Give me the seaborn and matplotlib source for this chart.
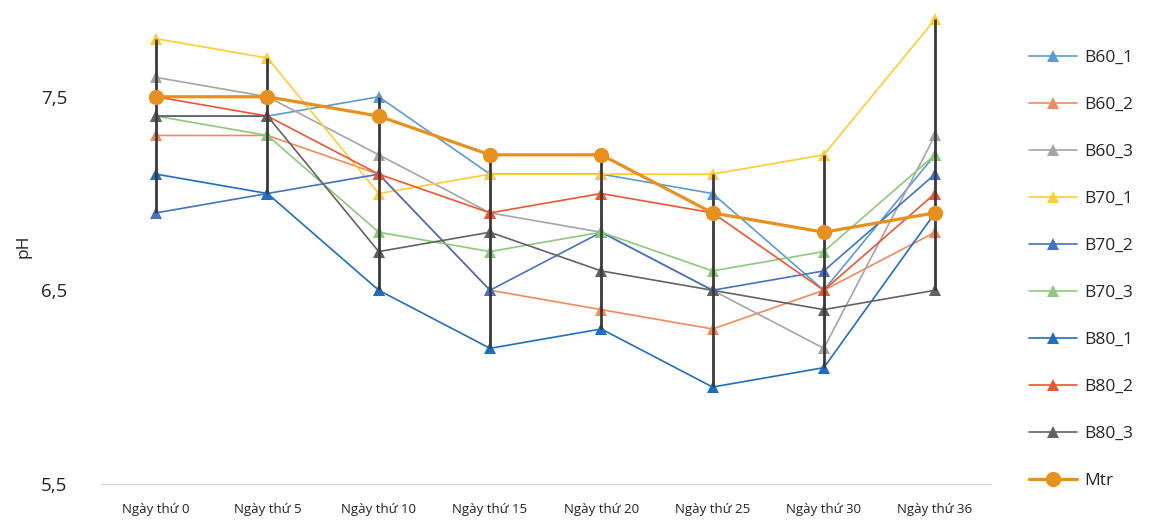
import numpy as np
import pandas as pd
import matplotlib
matplotlib.use("Agg")
import matplotlib.pyplot as plt
import seaborn as sns

# categories (days) and pH series
days = ["Ngày thứ 0", "Ngày thứ 5", "Ngày thứ 10", "Ngày thứ 15",
        "Ngày thứ 20", "Ngày thứ 25", "Ngày thứ 30", "Ngày thứ 36"]

b60_1 = [7.4, 7.4, 7.5, 7.1, 7.1, 7.0, 6.5, 7.2]
b60_2 = [7.3, 7.3, 7.1, 6.5, 6.4, 6.3, 6.5, 6.8]
b60_3 = [7.6, 7.5, 7.2, 6.9, 6.8, 6.5, 6.2, 7.3]
b70_1 = [7.8, 7.7, 7.0, 7.1, 7.1, 7.1, 7.2, 7.9]
b70_2 = [6.9, 7.0, 7.1, 6.5, 6.8, 6.5, 6.6, 7.1]
b70_3 = [7.4, 7.3, 6.8, 6.7, 6.8, 6.6, 6.7, 7.2]
b80_1 = [7.1, 7.0, 6.5, 6.2, 6.3, 6.0, 6.1, 6.9]
b80_2 = [7.5, 7.4, 7.1, 6.9, 7.0, 6.9, 6.5, 7.0]
b80_3 = [7.4, 7.4, 6.7, 6.8, 6.6, 6.5, 6.4, 6.5]
mtr = [7.5, 7.5, 7.4, 7.2, 7.2, 6.9, 6.8, 6.9]

names = ["B60_1", "B60_2", "B60_3", "B70_1", "B70_2", "B70_3",
         "B80_1", "B80_2", "B80_3", "Mtr"]
values = [b60_1, b60_2, b60_3, b70_1, b70_2, b70_3, b80_1, b80_2, b80_3, mtr]
colors = ["#5B9BD5", "#F28A5B", "#A5A5A5", "#FFCC33", "#4472C4",
          "#8CC97A", "#1F6FC0", "#EE5530", "#626262", "#E8901E"]

rows = []
for name, vals in zip(names, values):
    for i, v in enumerate(vals):
        rows.append({"day": i, "series": name, "pH": v})
df = pd.DataFrame(rows)

sns.set_style("white")
plt.rcParams["font.family"] = ["Open Sans", "DejaVu Sans"]

fig = plt.figure(figsize=(11.56, 5.27), dpi=100)
ax = fig.add_axes([0.087, 0.082, 0.77, 0.918])

# error bars: min..max over all series at each day
span = df.groupby("day")["pH"].agg(["min", "max"])
ax.vlines(span.index, span["min"], span["max"], color="#3A3A3A", lw=2.0, zorder=3)

for name, col in zip(names, colors):
    sub = df[df["series"] == name]
    is_mtr = name == "Mtr"
    sns.lineplot(data=sub, x="day", y="pH", ax=ax, color=col, label=name,
                 marker="o" if is_mtr else "^",
                 markersize=11 if is_mtr else 9,
                 markeredgewidth=0,
                 linewidth=2.3 if is_mtr else 1.2,
                 zorder=4 if is_mtr else 2, sort=False)

ax.set_xlim(-0.5, 7.5)
ax.set_ylim(5.5, 8.0)
ax.set_xticks(range(len(days)))
ax.set_xticklabels(days, fontsize=9.5, color="#222222")
ax.set_yticks([5.5, 6.5, 7.5])
ax.set_yticklabels(["5,5", "6,5", "7,5"], fontsize=13.5, color="#222222")
ax.tick_params(axis="x", length=0, pad=14)
ax.tick_params(axis="y", length=0, pad=24)
ax.set_xlabel("")
ax.set_ylabel("pH", fontsize=12.5, color="#222222")
ax.yaxis.set_label_coords(-0.078, 0.49)

for s in ["top", "right", "left"]:
    ax.spines[s].set_visible(False)
ax.spines["bottom"].set_color("#D0D0D0")

ax.legend(loc="center left", bbox_to_anchor=(1.025, 0.443), frameon=False,
          fontsize=12.5, labelspacing=1.78, handlelength=2.8, handletextpad=0.4)

plt.savefig("out.png", dpi=100)
